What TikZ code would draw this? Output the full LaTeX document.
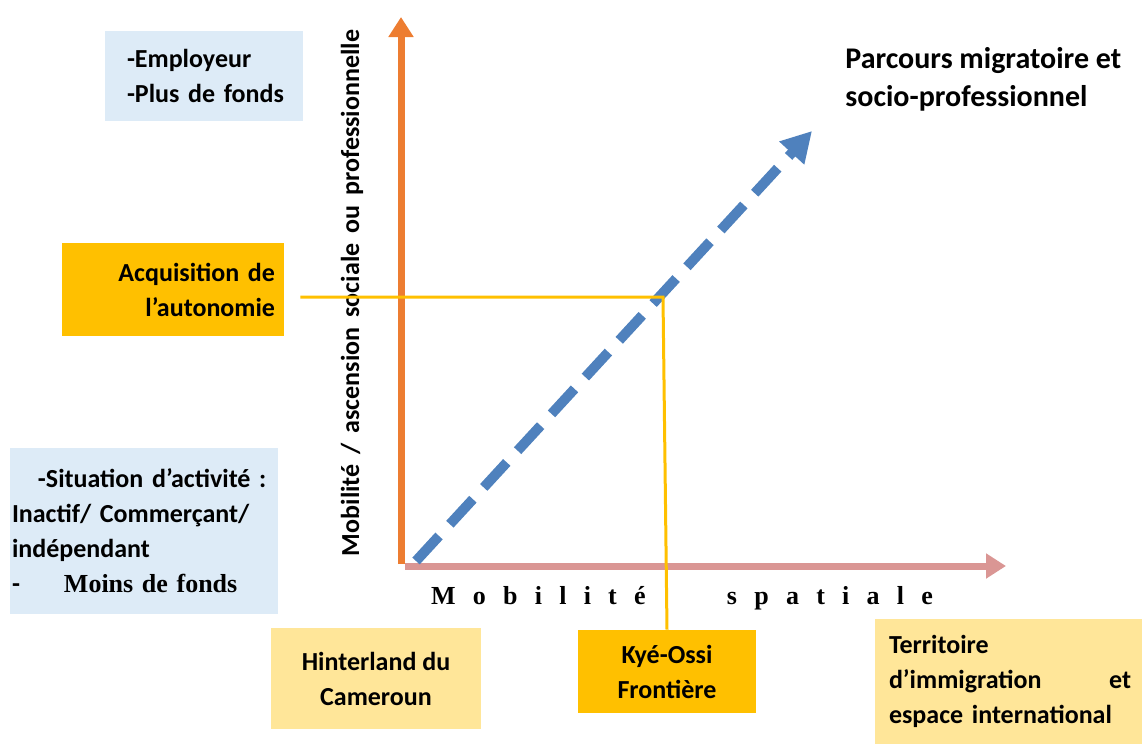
\documentclass[tikz,border=0pt]{standalone}
\usepackage{fontspec}
\setmainfont{Carlito}
\newfontfamily\timesfont{Liberation Serif}
\usetikzlibrary{arrows.meta,positioning}
\definecolor{paleblue}{HTML}{DDEBF7}
\definecolor{paleyellow}{HTML}{FFE699}
\definecolor{gold}{HTML}{FFC000}
\definecolor{axisorange}{HTML}{ED7D31}
\definecolor{axispink}{HTML}{DA9694}
\definecolor{pathblue}{HTML}{4F81BD}
\tikzset{
  txt/.style      = {font=\bfseries\fontsize{13}{17.5}\selectfont, inner sep=0pt},
  infobox/.style  = {txt, fill=paleblue},
  placebox/.style = {txt, fill=paleyellow, align=center},
  goldbox/.style  = {txt, fill=gold},
  vaxis/.style    = {axisorange, line width=3.5pt, -{Triangle[length=10pt,width=12pt]}},
  haxis/.style    = {axispink, line width=3.5pt, -{Triangle[length=10pt,width=12pt]}},
  route/.style    = {pathblue, line width=5pt, dash pattern=on 17pt off 8pt,
                     -{Triangle[length=15pt,width=16pt]}},
  guide/.style    = {gold, line width=1.5pt}
}
\begin{document}
\begin{tikzpicture}[x=0.5pt,y=-0.5pt]
\useasboundingbox (0,0) rectangle (1142,744);
% boxes
\node[infobox, minimum width=99pt, minimum height=45pt,
      text width=99pt, align=left] (rich) at (204,76)
      {\hspace*{11pt}-Employeur\\\hspace*{11pt}-Plus de fonds};
\node[infobox, minimum width=134pt, minimum height=83pt,
      text width=132pt, align=left] (poor) at (144,531)
      {\hspace*{13pt}-Situation d’activité :\\Inactif/ Commerçant/\\indépendant\\
       -\hspace{22pt}{\timesfont Moins de fonds}};
\node[goldbox, minimum width=111pt, minimum height=46.5pt,
      text width=102pt, align=right] (acq) at (173,289.5)
      {Acquisition de\\l’autonomie};
\node[placebox, minimum width=105pt, minimum height=50.5pt] (hinter) at (376,678.5)
      {Hinterland du\\Cameroun};
\node[goldbox, align=center, minimum width=89pt, minimum height=41.5pt] (kye) at (667,671.5)
      {Kyé-Ossi\\Frontière};
\node[placebox, minimum width=135.5pt, minimum height=62.5pt,
      text width=121pt, align=left] (terr) at (1010,681.5)
      {Territoire\\d’immigration\hfill et\\espace international};
% labels
\node[txt, anchor=west, align=left, font=\bfseries\fontsize{15}{19}\selectfont]
      (parcours) at (845,79) {Parcours migratoire et\\socio-professionnel};
\node[txt, rotate=90] (ylab) at (352,293)
      {\makebox[263pt][s]{Mobilité / ascension sociale ou professionnelle}};
\node[inner sep=0pt, font=\timesfont\bfseries\fontsize{13}{15}\selectfont] (xlab) at (682,598)
      {\makebox[251pt][s]{M o b i l i t é\hspace{32pt} s p a t i a l e}};
% axes
\coordinate (O) at (401,566);
\coordinate (ytop) at (401,17);
\coordinate (xend) at (1006,566);
\draw[vaxis] ([yshift=1pt]O) -- (ytop);
\draw[haxis] ([xshift=2pt]O) -- (xend);
% migration path
\coordinate (dstart) at (416,561);
\coordinate (dend) at (812,131);
\draw[route] (dstart) -- (dend);
% guide line
\coordinate (knee) at (663,297);
\draw[guide, shorten <=8pt] (acq.east |- knee) -- (knee) -- (kye.north);
\end{tikzpicture}
\end{document}
